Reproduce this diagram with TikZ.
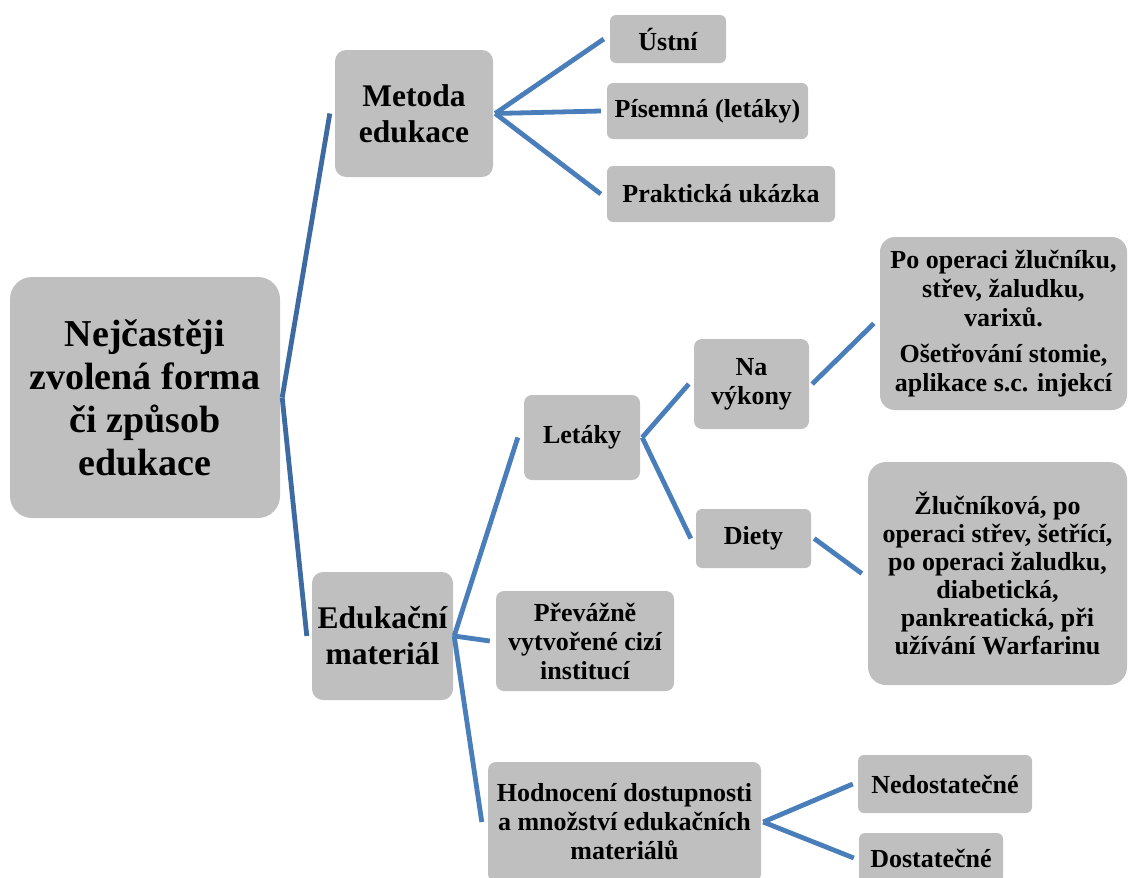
\documentclass[tikz,border=0pt]{standalone}
\usepackage{fontspec}
\setmainfont{Liberation Serif}
\usepackage{tikz}
\usetikzlibrary{calc}
\definecolor{boxgray}{RGB}{191,191,191}
\definecolor{linkblue}{RGB}{74,126,187}
\definecolor{rootblue}{RGB}{62,106,162}

\begin{document}
\begin{tikzpicture}[x=1pt,y=-1pt,
		box/.style={fill=boxgray,rounded corners=6pt,align=center,inner sep=0pt,
			font=\bfseries\fontsize{26}{29}\selectfont},
		midbox/.style={box,rounded corners=11pt,font=\bfseries\fontsize{31.5}{36}\selectfont},
		link/.style={draw=linkblue,line width=4.8pt}]
			\useasboundingbox (0,0) rectangle (1128,878);
			% root and second level
			\node[box,rounded corners=22pt,minimum width=270pt,minimum height=241pt,
				font=\bfseries\fontsize{38}{43}\selectfont] (root) at (145,397.5)
				{Nejčastěji\\zvolená forma\\či způsob\\edukace};
			\node[midbox,minimum width=158pt,minimum height=127pt] (metoda) at (414,113.5) {Metoda\\edukace};
			\node[midbox,minimum width=141pt,minimum height=128pt] (material) at (382.5,636) {Edukační\\materiál};
			% methods
			\node[box,minimum width=116pt,minimum height=48pt] (ustni) at (668,39) {Ústní};
			\node[box,minimum width=201pt,minimum height=56pt] (pisemna) at (707.5,111) {Písemná (letáky)};
			\node[box,minimum width=228pt,minimum height=56pt] (prakticka) at (721,194) {Praktická ukázka};
			% materials
			\node[box,rounded corners=8pt,minimum width=116pt,minimum height=85pt] (letaky) at (582,437.5) {Letáky};
			\node[box,rounded corners=8pt,minimum width=178pt,minimum height=100pt] (prevazne) at (585,641)
				{Převážně\\vytvořené cizí\\institucí};
			\node[box,rounded corners=8pt,minimum width=273pt,minimum height=120pt] (hodnoceni) at (624.5,822)
				{Hodnocení dostupnosti\\a množství edukačních\\materiálů};
			% leaflets
			\node[box,rounded corners=8pt,minimum width=115pt,minimum height=90pt] (vykony) at (751.5,384) {Na\\výkony};
			\node[box,minimum width=115pt,minimum height=59pt] (diety) at (753.5,538.5) {Diety};
			\node[box,rounded corners=15pt,minimum width=247pt,minimum height=173pt] (operace) at (1003.5,323.5)
				{Po operaci žlučníku,\\střev, žaludku,\\varixů.\\[7pt]Ošetřování stomie,\\aplikace s.c. injekcí};
			\node[box,rounded corners=18pt,minimum width=259pt,minimum height=223pt,
				font=\bfseries\fontsize{26}{28}\selectfont] (dietlist) at (997.5,573.5)
				{Žlučníková, po\\operaci střev, šetřící,\\po operaci žaludku,\\diabetická,\\pankreatická, při\\užívání Warfarinu};
			% rating
			\node[box,minimum width=174pt,minimum height=58pt] (nedost) at (945,784) {Nedostatečné};
			\node[box,minimum width=144pt,minimum height=50pt] (dost) at (931,858) {Dostatečné};
			
			\draw[link,draw=rootblue]([xshift=2pt]root.east) -- ([xshift=-5pt]metoda.west);
			\draw[link,draw=rootblue]([xshift=2pt]root.east) -- ([xshift=-5pt]material.west);
			\foreach \child in {ustni,pisemna,prakticka}
				\draw[link]([xshift=2pt]metoda.east) -- ([xshift=-6pt]\child.west);
			\foreach \child in {letaky,prevazne,hodnoceni}
				\draw[link]([xshift=1pt]material.east) -- ([xshift=-6pt]\child.west);
			\foreach \child in {vykony,diety}
				\draw[link]([xshift=2pt]letaky.east) -- ([xshift=-5pt]\child.west);
			\draw[link]([xshift=3pt]vykony.east) -- ([xshift=-6pt]operace.west);
			\draw[link]([xshift=3pt]diety.east) -- ([xshift=-6pt]dietlist.west);
			\foreach \child in {nedost,dost}
				\draw[link]([xshift=2pt]hodnoceni.east) -- ([xshift=-5pt]\child.west);
		\end{tikzpicture}
\end{document}
